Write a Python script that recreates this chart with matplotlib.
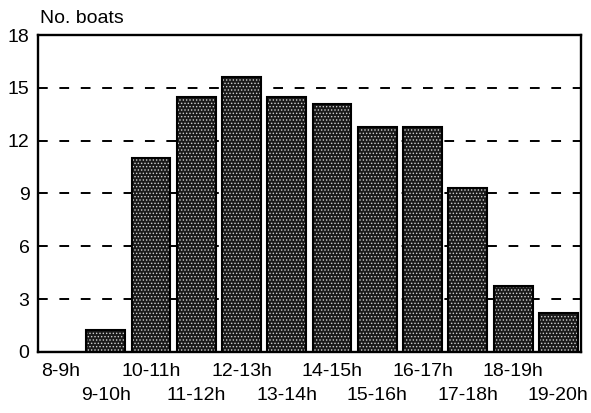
import numpy as np
import matplotlib
matplotlib.use("Agg")
import matplotlib.pyplot as plt

# Data
hours = ["8-9h", "9-10h", "10-11h", "11-12h", "12-13h", "13-14h",
         "14-15h", "15-16h", "16-17h", "17-18h", "18-19h", "19-20h"]
boats = [0, 1.25, 11.0, 14.5, 15.6, 14.5, 14.1, 12.8, 12.8, 9.3, 3.75, 2.2]
y_ticks = [0, 3, 6, 9, 12, 15, 18]

plt.rcParams["font.family"] = ["Liberation Sans", "DejaVu Sans"]
plt.rcParams["hatch.linewidth"] = 0.6

fig = plt.figure(figsize=(5.91, 4.13), dpi=100)
ax = fig.add_axes([0.064, 0.148, 0.919, 0.767])

x = np.arange(len(hours))

# dark stippled bars: dark fill, white dot hatch on top, black outline
ax.bar(x, boats, width=0.86, color="#1a1a1a", linewidth=0, zorder=2)
ax.bar(x, boats, width=0.86, fill=False, edgecolor="#d0d0d0", hatch=".....",
       linewidth=0, zorder=3)
ax.bar(x, boats, width=0.86, fill=False, edgecolor="black", linewidth=1.5,
       zorder=4)

ax.set_xlim(-0.5, len(hours) - 0.5)
ax.set_ylim(0, 18)
ax.set_yticks(y_ticks)
ax.set_yticklabels([str(t) for t in y_ticks], fontsize=14)
ax.set_xticks(x)
ax.set_xticklabels(hours, fontsize=14)
ax.tick_params(axis="both", length=0)
ax.tick_params(axis="y", pad=6)

# staggered labels: even on the first row, odd on the second
for i, tick in enumerate(ax.xaxis.get_major_ticks()):
    tick.set_pad(8 if i % 2 == 0 else 25)

ax.yaxis.grid(True, color="black", linestyle=(0, (5, 6)), linewidth=1.4)
ax.set_axisbelow(True)

for sp in ax.spines.values():
    sp.set_linewidth(1.7)
    sp.set_color("black")

fig.text(0.068, 0.955, "No. boats", fontsize=14, ha="left", va="center")

fig.savefig("out.png", dpi=100)
